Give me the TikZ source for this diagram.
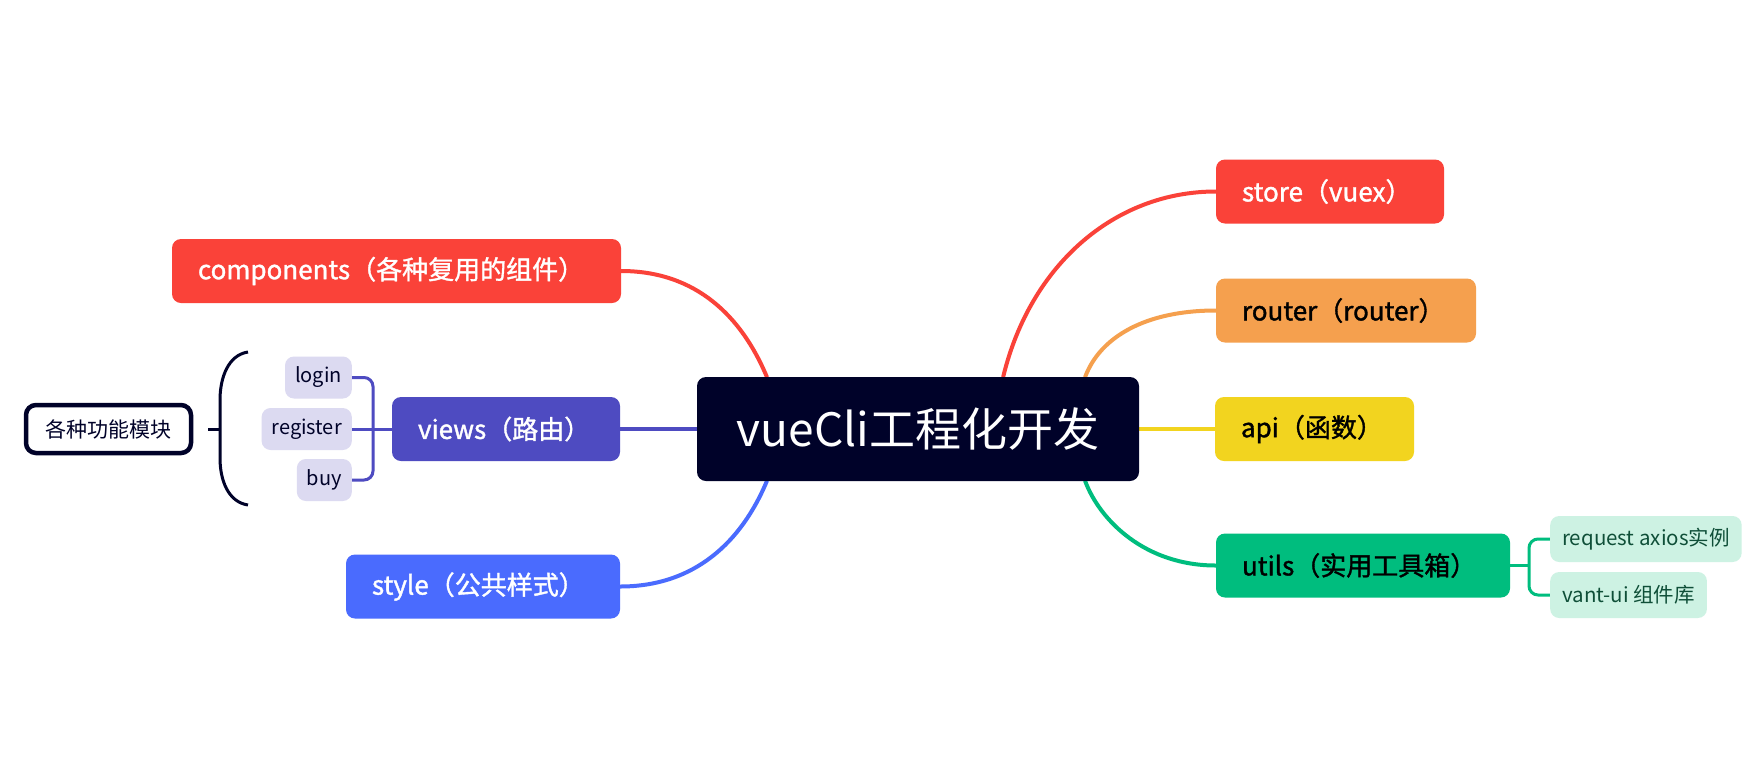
\documentclass[tikz,border=0pt]{standalone}
\usepackage{fontspec}
\setmainfont{Noto Sans CJK SC}
\newfontfamily\medfont{Noto Sans CJK SC}[FakeBold=1.4]
\usetikzlibrary{backgrounds}
\hyphenpenalty=10000

\definecolor{hubnavy}{HTML}{000229}
\definecolor{redbr}{HTML}{FA4239}
\definecolor{orangebr}{HTML}{F5A04E}
\definecolor{yellowbr}{HTML}{F2D41F}
\definecolor{greenbr}{HTML}{00BD7E}
\definecolor{mintleaf}{HTML}{CDF2E3}
\definecolor{minttext}{HTML}{0F4F38}
\definecolor{violetbr}{HTML}{4E4BC1}
\definecolor{lavleaf}{HTML}{DCDAF1}
\definecolor{bluebr}{HTML}{4A6BFE}

\tikzset{
	hub/.style={fill=hubnavy, text=white, rounded corners=9pt, inner sep=0pt,
		minimum width=442pt, minimum height=104pt, font=\fontsize{46}{52}\selectfont},
	branch/.style={rounded corners=9pt, inner xsep=26pt, inner ysep=0pt,
		minimum height=64pt, text width=#1, align=left, font=\medfont\fontsize{26}{30}\selectfont},
	leaf/.style={rounded corners=9pt, inner xsep=10pt, inner ysep=0pt,
		minimum height=42pt, font=\fontsize{20}{24}\selectfont},
	mint/.style={leaf, fill=mintleaf, text=minttext, anchor=west, inner xsep=12pt,
		minimum height=46pt, font=\fontsize{20.5}{24}\selectfont},
	link/.style={line width=4pt, line cap=round},
	twig/.style={line width=3pt, rounded corners=9pt},
}

\begin{document}
\begin{tikzpicture}[x=1pt, y=-1pt]
	\useasboundingbox (0,0) rectangle (1748,772);

	% centre
	\node[hub] (hub) at (918,429) {vueCli工程化开发};

	% right side
	\node[branch=176pt, fill=redbr, text=white] (store) at (1330,191.5) {store（vuex）};
	\node[branch=208pt, fill=orangebr, text=black] (router) at (1346,310.5) {router（router）};
	\node[branch=147pt, fill=yellowbr, text=black] (api) at (1314.5,429) {api（函数）};
	\node[branch=242pt, fill=greenbr, text=black] (utils) at (1363,565.5) {utils（实用工具箱）};
	\node[mint] (request) at (1550,539) {request axios实例};
	\node[mint] (vant) at (1550,595) {vant-ui 组件库};

	% left side
	\node[branch=397pt, fill=redbr, text=white] (comp) at (396.5,271) {components（各种复用的组件）};
	\node[branch=176pt, fill=violetbr, text=white] (views) at (506,429) {views（路由）};
	\node[branch=222pt, fill=bluebr, text=white] (style) at (483,586.5) {style（公共样式）};
	\node[leaf, fill=lavleaf, text=hubnavy, anchor=east] (login) at (352,377.5) {login};
	\node[leaf, fill=lavleaf, text=hubnavy, anchor=east] (register) at (352,429) {register};
	\node[leaf, fill=lavleaf, text=hubnavy, anchor=east] (buy) at (352,480) {buy};
	\node[draw=hubnavy, line width=4.5pt, fill=white, text=hubnavy, rounded corners=10pt,
		minimum width=165pt, minimum height=48pt, font=\fontsize{21}{25}\selectfont] (module) at (108.5,429) {各种功能模块};

	\coordinate (vj) at (373,429);
	\coordinate (uj) at (1529,565.5);
	\coordinate (brtop) at (248,352);
	\coordinate (brbot) at (248,505);
	\coordinate (brmid) at (220,429);
	\coordinate (tick) at (208,429);

	\begin{scope}[on background layer]
		\fill[white] (0,0) rectangle (1748,772);
		% branches
		\draw[link, redbr] ([xshift=-136pt]hub.north east) .. controls +(27,-112) and +(-101,0) .. (store.west);
		\draw[link, orangebr] ([xshift=-54pt]hub.north east) .. controls +(15,-40) and +(-70,0) .. (router.west);
		\draw[link, yellowbr] (hub.east) -- (api.west);
		\draw[link, greenbr] ([xshift=-54pt]hub.south east) .. controls +(15,40) and +(-70,0) .. (utils.west);
		\draw[link, redbr] (comp.east) .. controls +(75,0) and +(-25,-60) .. ([xshift=70pt]hub.north west);
		\draw[link, violetbr] (views.east) -- (hub.west);
		\draw[link, bluebr] (style.east) .. controls +(75,0) and +(-25,60) .. ([xshift=70pt]hub.south west);
		% sub branches
		\draw[twig, greenbr] (utils.east) -- (uj);
		\draw[twig, greenbr] (request.west) -| (uj) |- (vant.west);
		\draw[twig, violetbr] (register.east) -- (views.west);
		\draw[twig, violetbr] (login.east) -| (vj) |- (buy.east);
	\end{scope}

	% brace
	\draw[line width=3pt, hubnavy] (brtop) .. controls (228,355) and (220,378) .. (220,400)
		-- (220,458) .. controls (220,480) and (228,502) .. (brbot);
	\draw[line width=3pt, hubnavy] (tick) -- (brmid);
\end{tikzpicture}
\end{document}
